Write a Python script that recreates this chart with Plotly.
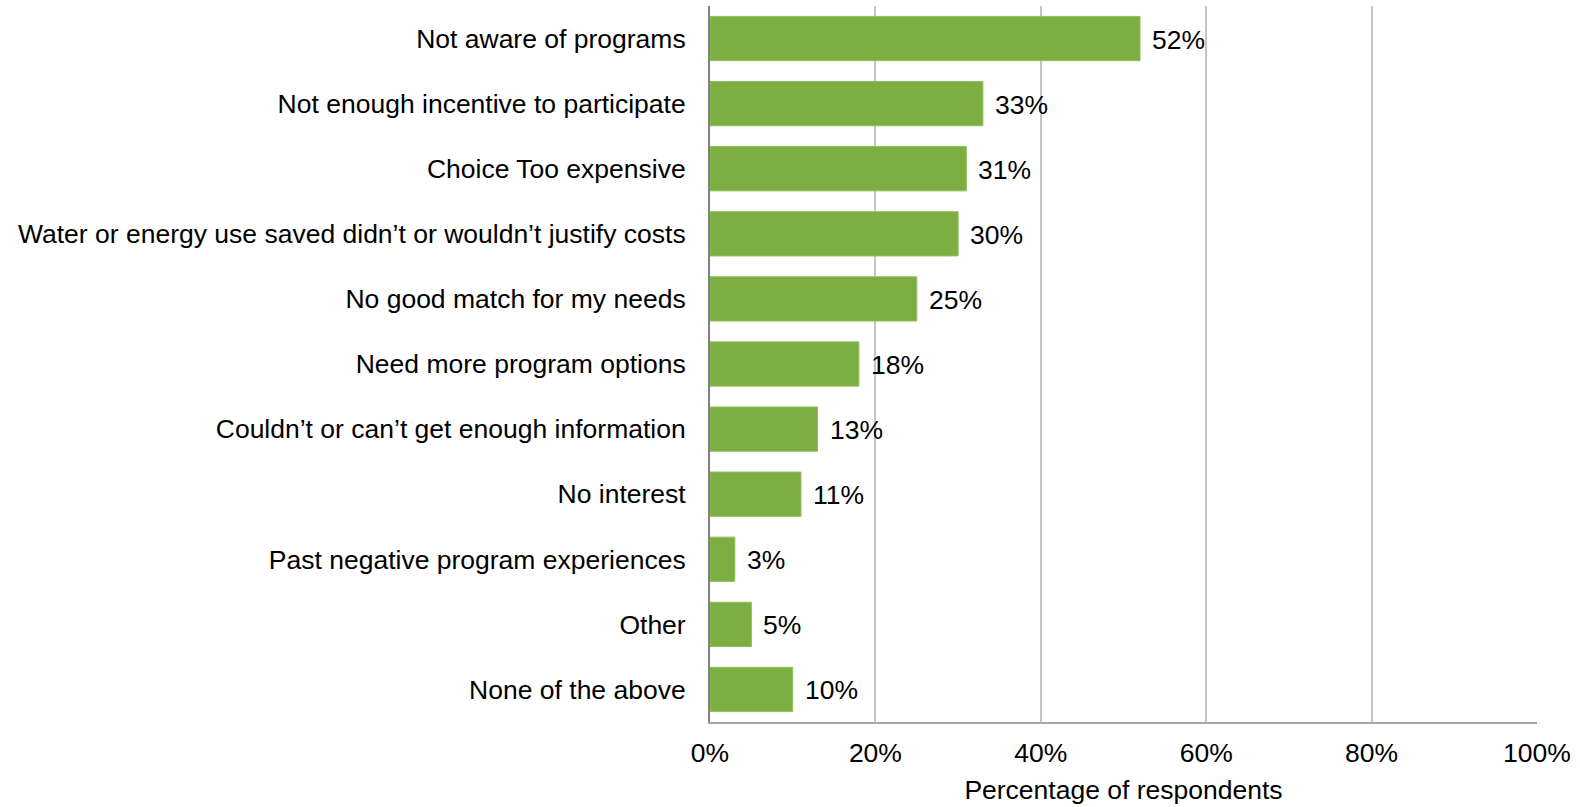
import plotly.graph_objects as go

categories = [
    "Not aware of programs",
    "Not enough incentive to participate",
    "Choice Too expensive",
    "Water or energy use saved didn\u2019t or wouldn\u2019t justify costs",
    "No good match for my needs",
    "Need more program options",
    "Couldn\u2019t or can\u2019t get enough information",
    "No interest",
    "Past negative program experiences",
    "Other",
    "None of the above",
]
values = [52, 33, 31, 30, 25, 18, 13, 11, 3, 5, 10]
tick_values = [0, 20, 40, 60, 80, 100]
tick_labels = ["0%", "20%", "40%", "60%", "80%", "100%"]

FONT = "Liberation Sans, Arial, sans-serif"
FS = 26.5
GREEN = "#7cae42"

fig = go.Figure()
fig.add_trace(go.Bar(
    x=values,
    y=categories,
    orientation="h",
    marker=dict(color=GREEN, line=dict(color="#8fbf5c", width=1)),
    hoverinfo="x+y",
))

# value labels placed just past the end of each bar
for cat, v in zip(categories, values):
    fig.add_annotation(
        x=v, y=cat, text=f"{v}%", showarrow=False,
        xanchor="left", xshift=10, yshift=-1,
        font=dict(family=FONT, size=FS, color="#000000"),
    )

fig.update_layout(
    width=1580, height=807,
    margin=dict(l=710, r=43, t=6, b=85),
    paper_bgcolor="white", plot_bgcolor="white",
    bargap=0.32,
    showlegend=False,
    font=dict(family=FONT, size=FS, color="#000000"),
    xaxis=dict(
        range=[0, 100],
        tickvals=tick_values,
        ticktext=tick_labels,
        showgrid=True, gridcolor="#c4c4c4", gridwidth=1.5,
        zeroline=False,
        showline=True, linecolor="#a6a6a6", linewidth=2,
        ticks="", ticklabelstandoff=6,
        title=dict(text="Percentage of respondents", standoff=14,
                   font=dict(family=FONT, size=FS)),
        tickfont=dict(family=FONT, size=FS),
    ),
    yaxis=dict(
        categoryorder="array", categoryarray=categories[::-1],
        autorange=False, range=[-0.5, len(categories) - 0.5],
        showgrid=False, zeroline=False,
        showline=True, linecolor="#808080", linewidth=2,
        ticks="", ticklabelstandoff=17,
        tickfont=dict(family=FONT, size=FS),
    ),
)

fig.write_html("out.html")
